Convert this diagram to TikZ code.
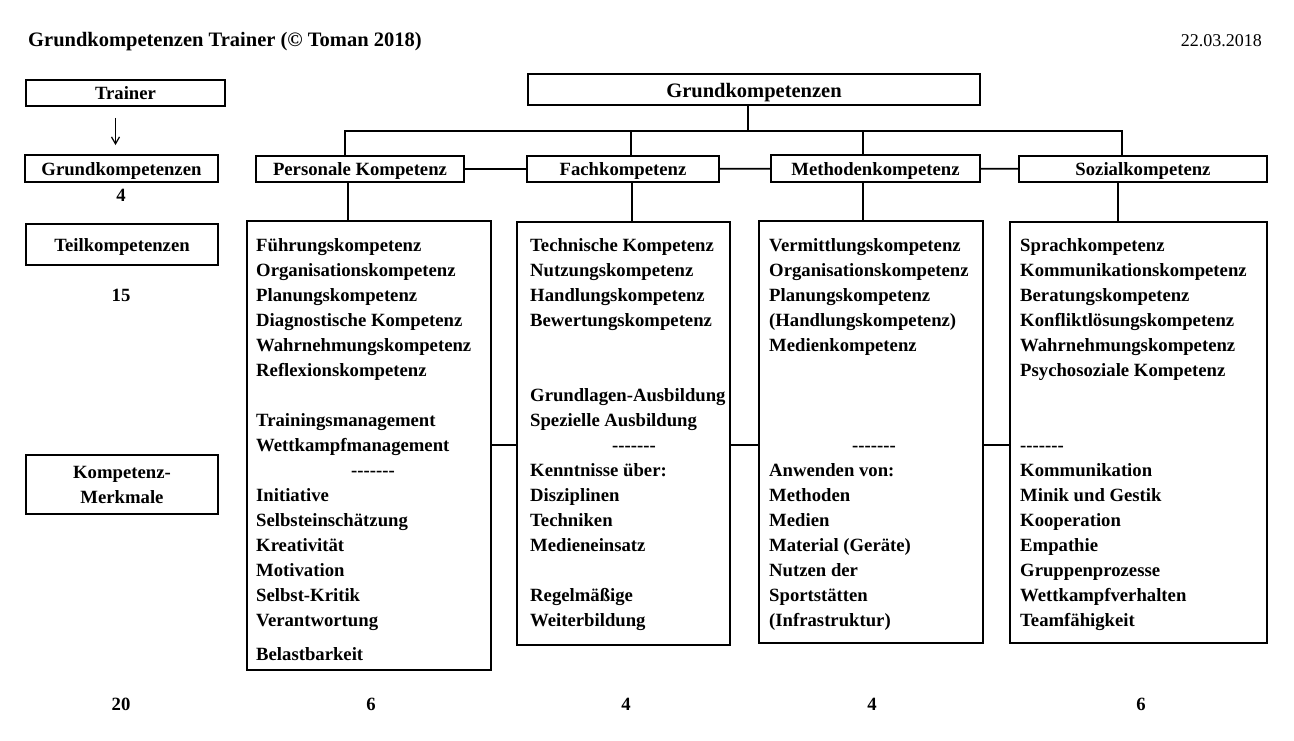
\documentclass[tikz,border=0pt]{standalone}
\usepackage{fontspec}
\setmainfont{Liberation Serif}
\usepackage{tikz}
\usetikzlibrary{calc,arrows.meta}
\newcommand{\bodyfont}{\bfseries\fontsize{18.7}{25}\selectfont}
\newcommand{\dashrow}{-\kern0pt-\kern0pt-\kern0pt-\kern0pt-\kern0pt-\kern0pt-}
\tikzset{
  labelbox/.style={rectangle, draw=black, line width=1.8pt, inner sep=0pt, align=center, font=\bodyfont},
  oneline/.style={text height=15pt, text depth=1pt},
  listbox/.style={rectangle, draw=black, line width=1.8pt, inner sep=0pt},
  listtext/.style={anchor=north west, inner sep=0pt, align=left, font=\bodyfont, execute at begin node={\rule{0pt}{15pt}}},
  countlabel/.style={font=\bodyfont, inner sep=0pt},
  treeline/.style={line width=1.8pt},
  downarrow/.style={-{Straight Barb[length=7pt,width=8pt]}, line width=1.2pt},
}

\begin{document}
\begin{tikzpicture}[x=1pt,y=-1pt]
  \useasboundingbox (0,0) rectangle (1294,741);
  % --- heading ---
  \node[anchor=base west, inner sep=0pt, font=\bfseries\fontsize{20.5}{25}\selectfont] (title) at (28,47) {Grundkompetenzen Trainer (© Toman 2018)};
  \node[anchor=base east, inner sep=0pt, font=\fontsize{18}{22}\selectfont] (date) at (1262,47) {22.03.2018};
  % --- left column ---
  \node[labelbox, oneline, minimum width=199, minimum height=26] (trainer) at (125.5,93) {Trainer};
  \node[labelbox, oneline, minimum width=193, minimum height=27] (gkl) at (121.5,168.5) {Grundkompetenzen};
  \node[countlabel] (n4) at (121,195) {4};
  \node[labelbox, oneline, minimum width=192, minimum height=41] (teil) at (122,244.5) {Teilkompetenzen};
  \node[countlabel] (n15) at (121,295) {15};
  \node[labelbox, minimum width=192, minimum height=59] (merk) at (122,484.5) {Kompetenz-\\Merkmale};
  \node[countlabel] (n20) at (121,704) {20};
  \draw[downarrow] ($(trainer.south)+(-10,11)$) -- ($(gkl.north)+(-6,-9)$);
  % --- tree ---
  \node[labelbox, text height=17pt, text depth=0pt, font=\bfseries\fontsize{20.5}{25}\selectfont, minimum width=452, minimum height=31] (gk) at (754,89.5) {Grundkompetenzen};
  \node[labelbox, oneline, minimum width=208, minimum height=26] (pk) at (360,169) {Personale Kompetenz};
  \node[labelbox, oneline, minimum width=192, minimum height=26] (fk) at (623,169) {Fachkompetenz};
  \node[labelbox, oneline, minimum width=209, minimum height=27] (mk) at (875.5,168.5) {Methodenkompetenz};
  \node[labelbox, oneline, minimum width=248, minimum height=26] (sk) at (1143,169) {Sozialkompetenz};
  \coordinate (bus) at (748,131);
  \coordinate (dp) at ($(pk.north)+(-15,0)$);
  \coordinate (df) at ($(fk.north)+(8,0)$);
  \coordinate (dm) at ($(mk.north)+(-12.5,0)$);
  \coordinate (ds) at ($(sk.north)+(-21,0)$);
  \draw[treeline] (gk.south -| bus) -- (bus);
  \draw[treeline] (dp) -- (dp |- bus) -- (ds |- bus) -- (ds);
  \draw[treeline] (df) -- (df |- bus);
  \draw[treeline] (dm) -- (dm |- bus);
  \draw[treeline] (pk) -- (fk);
  \draw[treeline] (fk) -- (mk);
  \draw[treeline] (mk) -- (sk);
  % --- lists ---
  \node[listbox, minimum width=244, minimum height=449] (pl) at (369,445.5) {};
  \node[listbox, minimum width=213, minimum height=423] (fl) at (623.5,433.5) {};
  \node[listbox, minimum width=224, minimum height=422] (ml) at (871,432) {};
  \node[listbox, minimum width=257, minimum height=421] (sl) at (1138.5,432.5) {};
  \draw[treeline] ($(pk.south)+(-12,0)$) -- ($(pl.north)+(-21,0)$);
  \draw[treeline] ($(fk.south)+(9,0)$) -- ($(fl.north)+(8.5,0)$);
  \draw[treeline] ($(mk.south)+(-12.5,0)$) -- ($(ml.north)+(-8,0)$);
  \draw[treeline] ($(sk.south)+(-25,0)$) -- ($(sl.north)+(-20.5,0)$);
  \coordinate (mid) at (0,445);
  \draw[treeline] (pl.east |- mid) -- (fl.west |- mid);
  \draw[treeline] (fl.east |- mid) -- (ml.west |- mid);
  \draw[treeline] (ml.east |- mid) -- (sl.west |- mid);
  \node[listtext] (ptext) at (256,238) {Führungskompetenz\\Organisationskompetenz\\Planungskompetenz\\Diagnostische Kompetenz\\Wahrnehmungskompetenz\\Reflexionskompetenz\\[25pt]Trainingsmanagement\\Wettkampfmanagement\\\hspace*{95pt}\dashrow\\Initiative\\Selbsteinschätzung\\Kreativität\\Motivation\\Selbst-Kritik\\Verantwortung\\[9pt]Belastbarkeit};
  \node[listtext] (ftext) at (530,238) {Technische Kompetenz\\Nutzungskompetenz\\Handlungskompetenz\\Bewertungskompetenz\\[50pt]Grundlagen-Ausbildung\\Spezielle Ausbildung\\\hspace*{82pt}\dashrow\\Kenntnisse über:\\Disziplinen\\Techniken\\Medieneinsatz\\[25pt]Regelmäßige\\Weiterbildung};
  \node[listtext] (mtext) at (769,238) {Vermittlungskompetenz\\Organisationskompetenz\\Planungskompetenz\\(Handlungskompetenz)\\Medienkompetenz\\[75pt]\hspace*{83pt}\dashrow\\Anwenden von:\\Methoden\\Medien\\Material (Geräte)\\Nutzen der\\Sportstätten\\(Infrastruktur)};
  \node[listtext] (stext) at (1020,238) {Sprachkompetenz\\Kommunikationskompetenz\\Beratungskompetenz\\Konfliktlösungskompetenz\\Wahrnehmungskompetenz\\Psychosoziale Kompetenz\\[50pt]\dashrow\\Kommunikation\\Minik und Gestik\\Kooperation\\Empathie\\Gruppenprozesse\\Wettkampfverhalten\\Teamfähigkeit};
  % --- counts ---
  \node[countlabel] (np) at (371,704) {6};
  \node[countlabel] (nf) at (626,704) {4};
  \node[countlabel] (nm) at (872,704) {4};
  \node[countlabel] (ns) at (1141,704) {6};
\end{tikzpicture}
\end{document}
